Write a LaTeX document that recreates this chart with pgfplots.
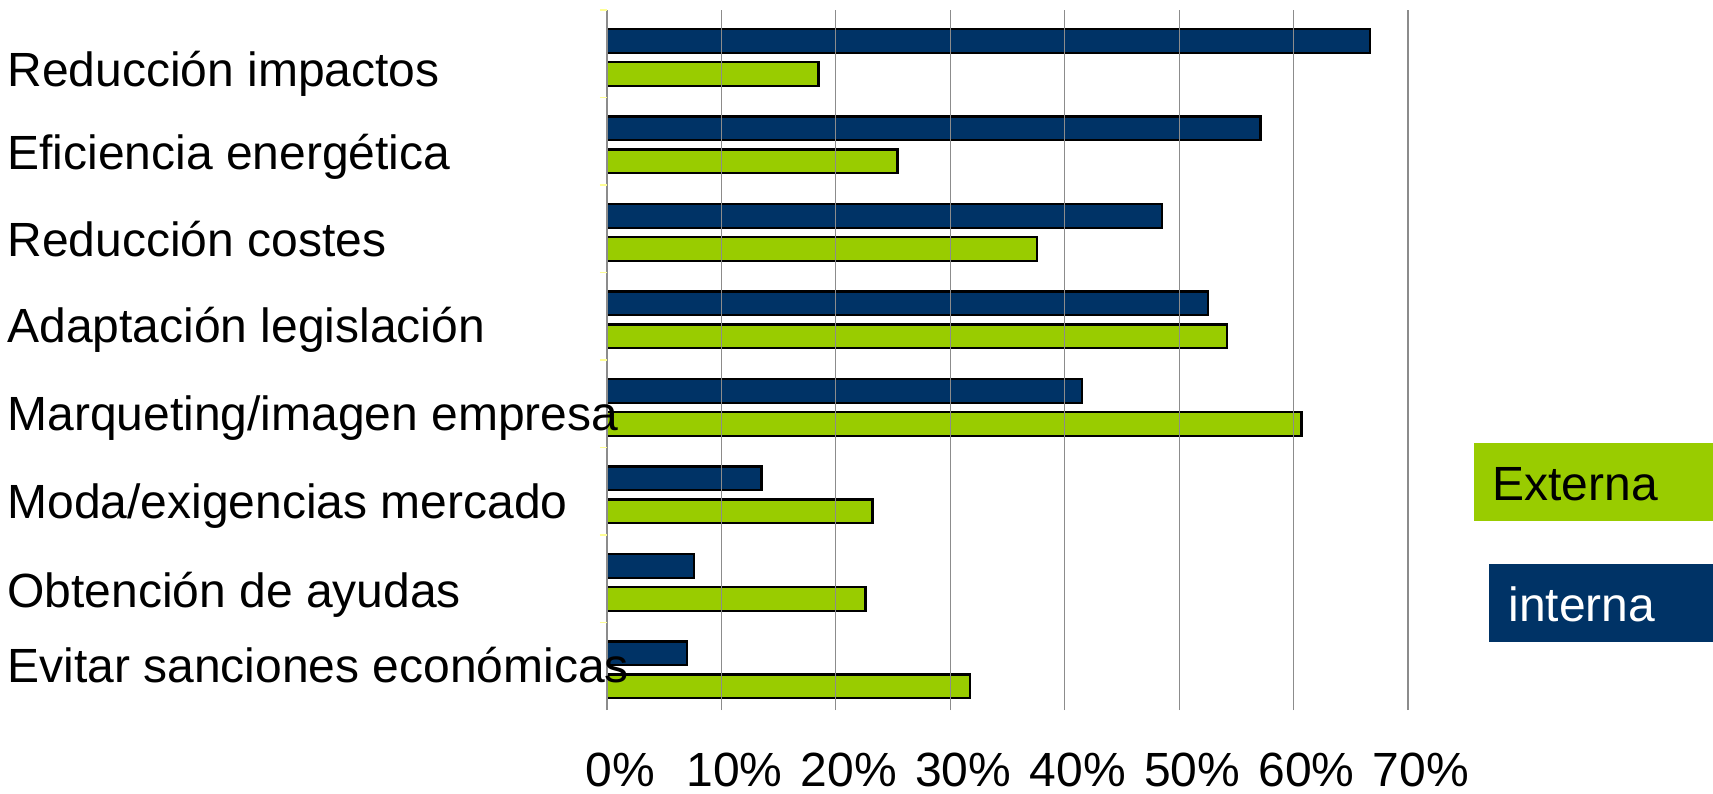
\documentclass[border=0pt]{standalone}
\usepackage{fontspec}
\setmainfont{Liberation Sans}
\usepackage{pgfplots}
\pgfplotsset{compat=1.18}
\definecolor{navy}{RGB}{0,51,102}
\definecolor{lime}{RGB}{153,204,0}
\definecolor{gridgray}{RGB}{140,140,140}
\definecolor{tickyellow}{RGB}{255,255,150}
\newcommand\lfont{\fontsize{24}{28}\selectfont}
\begin{document}
\begin{tikzpicture}
\path[use as bounding box] (0,0) rectangle (856.5pt,396.5pt);
\begin{axis}[
  at={(303.5pt,41.5pt)}, anchor=south west,
  scale only axis, width=400.5pt, height=350pt,
  xmin=0, xmax=70, ymin=0, ymax=8,
  xbar, bar shift=0pt, bar width=0.27,
  axis on top,
  axis line style={draw=none},
  xtick={0,10,...,70},
  xticklabels={0\%,10\%,20\%,30\%,40\%,50\%,60\%,70\%},
  xmajorgrids, major grid style={gridgray, line width=0.6pt},
  ytick pos=left,
  ytick={0.32,1.177,2.191,3.189,4.198,5.181,6.179,7.123},
  yticklabels={Evitar sanciones económicas, Obtención de ayudas, Moda/exigencias mercado, Marqueting/imagen empresa, Adaptación legislación, Reducción costes, Eficiencia energética, Reducción impactos},
  minor ytick={1,...,8},
  major tick length=0pt, minor tick length=3.5pt, tick align=outside,
  minor tick style={tickyellow, line width=0.6pt},
  xticklabel style={font=\lfont, anchor=base, inner sep=0pt, yshift=-38.3pt, xshift=6.5pt},
  yticklabel style={font=\lfont, anchor=base west, inner sep=0pt, xshift=-300pt},
  clip=false,
]
\addplot[draw=black, line width=1.2pt, fill=navy] coordinates {
  (66.7,7.646) (57.1,6.646) (48.5,5.646) (52.5,4.646)
  (41.5,3.646) (13.5,2.646) (7.6,1.646) (7.0,0.646)};
\addplot[draw=black, line width=1.2pt, fill=lime] coordinates {
  (18.5,7.269) (25.4,6.269) (37.6,5.269) (54.2,4.269)
  (60.7,3.269) (23.2,2.269) (22.6,1.269) (31.7,0.269)};
\end{axis}
\fill[lime] (737pt,136pt) rectangle (856.5pt,175pt);
\node[anchor=base west, inner sep=0pt, font=\lfont] at (746pt,146pt) {Externa};
\fill[navy] (744.5pt,75.6pt) rectangle (856.5pt,114.5pt);
\node[anchor=base west, inner sep=0pt, font=\lfont, text=white] at (754pt,86pt) {interna};
\end{tikzpicture}
\end{document}
